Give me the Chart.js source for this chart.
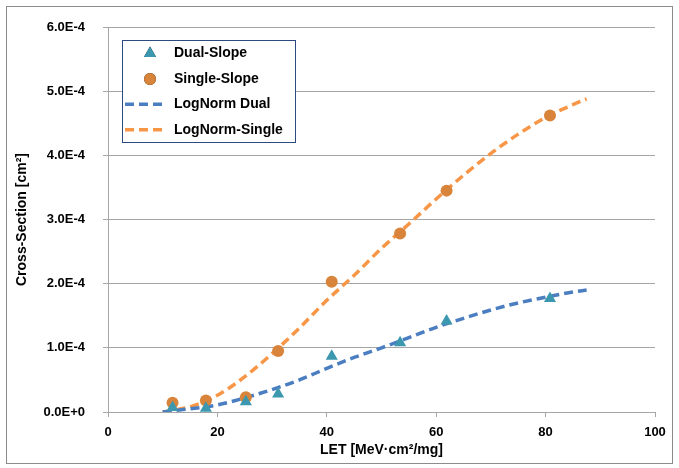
<!DOCTYPE html>
<html>
<head>
<meta charset="utf-8">
<script src="https://cdn.jsdelivr.net/npm/chart.js@4.4.1/dist/chart.umd.min.js"></script>
<style>
  html, body { margin: 0; padding: 0; background: #fff; }
  #wrap { width: 679px; height: 468px; }
</style>
</head>
<body>
<div id="wrap"><canvas id="chart" width="679" height="468"></canvas></div>
<script>
// measured points (LET, cross-section)
const letPoints = [11.8, 17.9, 25.2, 31.1, 40.9, 53.4, 61.9, 80.8];
const dualSlope = [0.07e-4, 0.06e-4, 0.16e-4, 0.28e-4, 0.87e-4, 1.08e-4, 1.42e-4, 1.77e-4];
const singleSlope = [0.145e-4, 0.18e-4, 0.23e-4, 0.95e-4, 2.03e-4, 2.78e-4, 3.45e-4, 4.62e-4];

// lognormal fit curves
const fitLet = [10, 12, 15, 20, 25, 30, 35, 40, 45, 50, 55, 60, 65, 70, 75, 80, 85, 87.5];
const logNormDual = [0.0, 0.02e-4, 0.05e-4, 0.11e-4, 0.22e-4, 0.35e-4, 0.50e-4, 0.68e-4, 0.85e-4,
  1.00e-4, 1.16e-4, 1.32e-4, 1.46e-4, 1.59e-4, 1.70e-4, 1.79e-4, 1.87e-4, 1.90e-4];
const logNormSingle = [0.0, 0.03e-4, 0.08e-4, 0.26e-4, 0.55e-4, 0.91e-4, 1.31e-4, 1.74e-4, 2.13e-4,
  2.55e-4, 2.93e-4, 3.32e-4, 3.69e-4, 4.03e-4, 4.33e-4, 4.59e-4, 4.79e-4, 4.88e-4];

const labels = ['Dual-Slope', 'Single-Slope', 'LogNorm Dual', 'LogNorm-Single'];
const FONT = '"Liberation Sans", Arial, sans-serif';

function pairs(xs, ys) {
  return xs.map((x, i) => ({ x: x, y: ys[i] }));
}

// grey frame round the whole chart
const framePlugin = {
  id: 'frame',
  beforeDraw(chart) {
    const c = chart.ctx;
    c.save();
    c.fillStyle = '#fff';
    c.fillRect(0, 0, chart.width, chart.height);
    c.strokeStyle = '#8c8c8c';
    c.lineWidth = 1;
    c.strokeRect(6.5, 6.5, 666, 457);
    c.restore();
  }
};

// legend box inside the plot area
const boxLegend = {
  id: 'boxLegend',
  afterDraw(chart) {
    const c = chart.ctx;
    const x0 = 122.5, y0 = 40.5, w = 173, h = 102;
    c.save();
    c.fillStyle = '#fff';
    c.fillRect(x0, y0, w, h);
    c.strokeStyle = '#2a4a80';
    c.lineWidth = 1;
    c.strokeRect(x0, y0, w, h);
    c.font = 'bold 14px ' + FONT;
    c.textBaseline = 'middle';
    c.fillStyle = '#000';
    chart.data.datasets.forEach((ds, i) => {
      const y = 53.5 + i * 25.4;
      if (ds.showLine) {
        c.strokeStyle = ds.borderColor;
        c.lineWidth = 3.5;
        c.setLineDash([9, 5]);
        c.beginPath();
        c.moveTo(125, y);
        c.lineTo(166, y);
        c.stroke();
        c.setLineDash([]);
      } else {
        Chart.helpers.drawPoint(c, {
          pointStyle: ds.pointStyle, radius: ds.pointRadius, rotation: 0,
          borderWidth: 0
        }, 150, y);
        c.fillStyle = ds.backgroundColor;
        c.fill();
      }
      c.fillStyle = '#000';
      c.fillText(ds.label, 174, y);
    });
    c.restore();
  }
};

new Chart(document.getElementById('chart'), {
  type: 'scatter',
  data: {
    datasets: [
      {
        label: labels[0], data: pairs(letPoints, dualSlope),
        pointStyle: 'triangle', pointRadius: 7, backgroundColor: '#3c98ae',
        borderColor: '#3c98ae', borderWidth: 0, showLine: false
      },
      {
        label: labels[1], data: pairs(letPoints, singleSlope),
        pointStyle: 'circle', pointRadius: 6, backgroundColor: '#d9843b',
        borderColor: '#d9843b', borderWidth: 0, showLine: false
      },
      {
        label: labels[2], data: pairs(fitLet, logNormDual),
        showLine: true, pointRadius: 0, borderColor: '#4a7ec1', borderWidth: 3.5,
        borderDash: [9, 5], cubicInterpolationMode: 'monotone', fill: false
      },
      {
        label: labels[3], data: pairs(fitLet, logNormSingle),
        showLine: true, pointRadius: 0, borderColor: '#f79646', borderWidth: 3.5,
        borderDash: [9, 5], cubicInterpolationMode: 'monotone', fill: false
      }
    ]
  },
  options: {
    responsive: false,
    animation: false,
    layout: { padding: { left: 0, top: 27, right: 24, bottom: 0 } },
    plugins: { legend: { display: false }, tooltip: { enabled: false } },
    scales: {
      x: {
        type: 'linear', min: 0, max: 100,
        ticks: { stepSize: 20, color: '#000', padding: 8, font: { family: FONT, size: 13, weight: 'bold' } },
        grid: { drawOnChartArea: false, drawTicks: true, tickLength: 5, color: '#a6a6a6' },
        border: { color: '#a6a6a6' },
        title: {
          display: true, text: 'LET [MeV·cm²/mg]', color: '#000',
          font: { family: FONT, size: 14, weight: 'bold' }, padding: { top: 0, bottom: 9 }
        },
        afterFit(s) { s.height = 56; }
      },
      y: {
        min: 0, max: 6e-4,
        ticks: {
          stepSize: 1e-4, color: '#000', padding: 18,
          font: { family: FONT, size: 13, weight: 'bold' },
          callback: v => v.toExponential(1).toUpperCase()
        },
        grid: { color: '#a6a6a6', tickLength: 5 },
        border: { color: '#a6a6a6' },
        title: {
          display: true, text: 'Cross-Section [cm²]', color: '#000',
          font: { family: FONT, size: 14, weight: 'bold' }, padding: { top: 14, bottom: 14 }
        },
        afterFit(s) { s.width = 108; }
      }
    }
  },
  plugins: [framePlugin, boxLegend]
});
</script>
</body>
</html>
